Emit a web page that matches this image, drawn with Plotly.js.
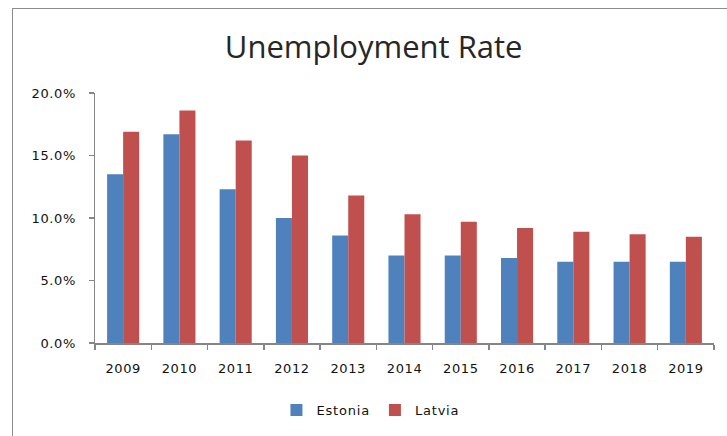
<!DOCTYPE html>
<html>
<head>
<meta charset="utf-8">
<script src="https://cdn.plot.ly/plotly-3.0.1.min.js"></script>
<style>
html,body{margin:0;padding:0;background:#fff;}
#wrap{position:relative;width:727px;height:436px;}
#frame{position:absolute;left:12px;top:8px;width:720px;height:440px;border-left:1.5px solid #8c8c8c;border-top:1.5px solid #8c8c8c;pointer-events:none;}
#chart{position:absolute;left:0;top:0;width:727px;height:436px;}
.xtick text, .ytick text{letter-spacing:0.6px;}
.legendtext{letter-spacing:0.8px;}
</style>
</head>
<body>
<div id="wrap"><div id="chart"></div><div id="frame"></div></div>
<script>
const years = ['2009','2010','2011','2012','2013','2014','2015','2016','2017','2018','2019'];
const estonia = [0.135,0.167,0.123,0.100,0.086,0.070,0.070,0.068,0.065,0.065,0.065];
const latvia  = [0.169,0.186,0.162,0.150,0.118,0.103,0.097,0.092,0.089,0.087,0.085];
const seriesNames = ['Estonia','Latvia'];
const colors = ['#4F81BD','#C0504D'];

const tickFont = "'DejaVu Sans', sans-serif";
const titleFont = "'Open Sans', sans-serif";
const traces = [estonia, latvia].map((vals,i)=>({
  type:'bar', x:years, y:vals, name:seriesNames[i],
  marker:{color:colors[i]}, hoverinfo:'skip'
}));

const layout = {
  width:727, height:436,
  margin:{l:95, r:13, t:93, b:92},
  paper_bgcolor:'#fff', plot_bgcolor:'#fff',
  barmode:'group', bargap:0.43, bargroupgap:0,
  font:{family:tickFont, size:13, color:'#000'},
  title:{text:'Unemployment Rate', font:{family:titleFont, size:31, color:'#262626'},
         xref:'container', x:0.514, xanchor:'center', yref:'container', y:0.893, yanchor:'middle'},
  xaxis:{type:'category', showline:true, linecolor:'#868686', linewidth:1.5,
         ticks:'outside', tickson:'boundaries', ticklen:5, tickcolor:'#868686', tickwidth:1.5,
         showgrid:false, zeroline:false, tickfont:{family:tickFont, size:13, color:'#111'}, ticklabelstandoff:13},
  yaxis:{range:[0,0.2], dtick:0.05, tick0:0, tickformat:'.1%', showline:true, linecolor:'#868686', linewidth:1.5,
         ticks:'outside', ticklen:5, tickcolor:'#868686', tickwidth:1.5,
         showgrid:false, zeroline:false, tickfont:{family:tickFont, size:13, color:'#111'}, ticklabelstandoff:10},
  showlegend:true,
  legend:{orientation:'h', x:0.445, xanchor:'center', y:-0.263, yanchor:'middle',
          font:{family:tickFont, size:13, color:'#111'}, traceorder:'normal'}
};
Plotly.newPlot('chart', traces, layout, {displayModeBar:false, staticPlot:true});
</script>
</body>
</html>
